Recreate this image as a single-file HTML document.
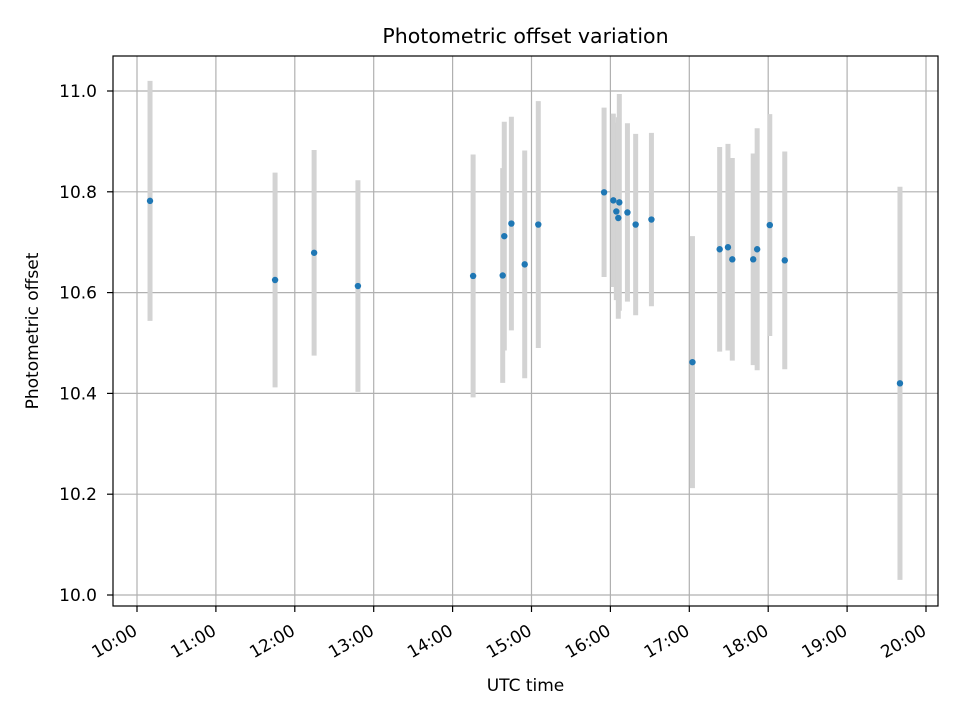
<!DOCTYPE html>
<html><head><meta charset="utf-8"><style>
body{margin:0;background:#fff}
svg{display:block;font-family:"DejaVu Sans","Liberation Sans",sans-serif}
</style></head><body>
<svg id="chart" width="960" height="720"></svg>
<script>
const hours=[10.165,11.75,12.245,12.80,14.26,14.635,14.655,14.745,14.914,15.086,15.92,16.037,16.075,16.113,16.10,16.216,16.32,16.52,17.04,17.385,17.49,17.545,17.81,17.86,18.02,18.21,19.67];
const offsets=[10.782,10.625,10.679,10.613,10.633,10.634,10.712,10.737,10.656,10.735,10.799,10.783,10.761,10.779,10.748,10.759,10.735,10.745,10.462,10.686,10.69,10.666,10.666,10.686,10.734,10.664,10.42];
const errors=[0.238,0.213,0.204,0.21,0.241,0.213,0.227,0.212,0.226,0.245,0.168,0.172,0.176,0.215,0.2,0.177,0.18,0.172,0.25,0.203,0.205,0.201,0.21,0.24,0.22,0.216,0.39];
const xTicks=[10,11,12,13,14,15,16,17,18,19,20];
const xTickLabels=["10:00","11:00","12:00","13:00","14:00","15:00","16:00","17:00","18:00","19:00","20:00"];
const yTicks=[10.0,10.2,10.4,10.6,10.8,11.0];
const yTickLabels=["10.0","10.2","10.4","10.6","10.8","11.0"];

const L=113,R=938,T=56,B=606;
const X=h=>137+(h-10)*78.9;
const Y=v=>595-(v-10)*504;
const svg=document.getElementById('chart');
const NS='http://www.w3.org/2000/svg';
function mk(tag,attrs,parent){const e=document.createElementNS(NS,tag);for(const k in attrs)e.setAttribute(k,attrs[k]);(parent||svg).appendChild(e);return e;}

const grid=mk('g',{});


xTicks.forEach((t,i)=>{
  const x=X(t);
  const gl=mk('line',{x1:x,x2:x,y1:T,y2:B,stroke:'#b0b0b0','stroke-width':1.2},grid);
  
  
  const tk=mk('line',{x1:x,x2:x,y1:B,y2:B+6,stroke:'#000','stroke-width':1.2});
  
  
  const ax=x+1.5, ay=B+28;
  const tx=mk('text',{x:ax,y:ay,'font-size':17,'text-anchor':'end',transform:`rotate(-30 ${ax} ${ay})`});
  tx.textContent=xTickLabels[i];
  
  
});
yTicks.forEach((t,i)=>{
  const y=Y(t);
  const gl=mk('line',{x1:L,x2:R,y1:y,y2:y,stroke:'#b0b0b0','stroke-width':1.2},grid);
  
  
  const tk=mk('line',{x1:L-6,x2:L,y1:y,y2:y,stroke:'#000','stroke-width':1.2});
  
  
  const tx=mk('text',{x:L-16,y:y+6,'font-size':17,'text-anchor':'end'});
  tx.textContent=yTickLabels[i];
  
  
});

hours.forEach((h,i)=>{
  const eb=mk('line',{x1:X(h),x2:X(h),y1:Y(offsets[i]+errors[i]),y2:Y(offsets[i]-errors[i]),stroke:'#d3d3d3','stroke-width':5});
  
  
});
hours.forEach((h,i)=>{
  const p=mk('circle',{cx:X(h),cy:Y(offsets[i]),r:3.2,fill:'#1f77b4'});
  
  
});

const frame=mk('rect',{x:L,y:T,width:R-L,height:B-T,fill:'none',stroke:'#000','stroke-width':1.2});



const title=mk('text',{x:(L+R)/2,y:43,'font-size':20.5,'text-anchor':'middle'});
title.textContent='Photometric offset variation';


const xt=mk('text',{x:(L+R)/2,y:691,'font-size':17,'text-anchor':'middle'});
xt.textContent='UTC time';


const yt=mk('text',{x:38,y:331,'font-size':17,'text-anchor':'middle',transform:'rotate(-90 38 331)'});
yt.textContent='Photometric offset';


</script>
</body></html>
